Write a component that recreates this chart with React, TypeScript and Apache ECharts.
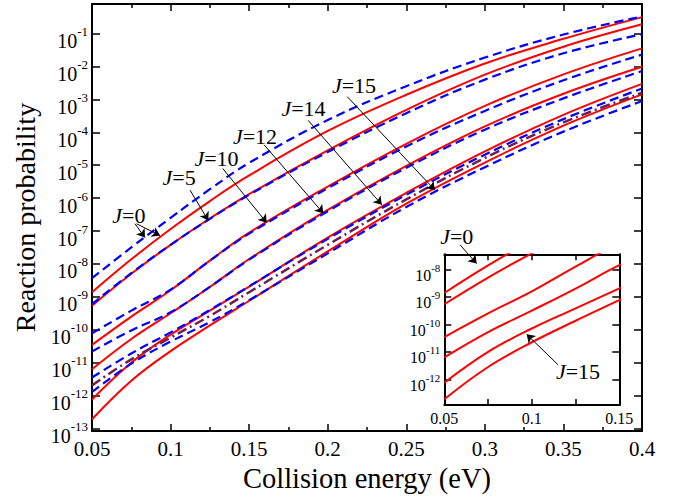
import React, { useEffect, useRef } from "react";
import * as echarts from "echarts";

// Collision energy (eV)
const energy = [0.05, 0.075, 0.1, 0.125, 0.15, 0.2, 0.25, 0.3, 0.35, 0.4];
// log10(reaction probability)
const redJ0 = [-8.86, -7.86, -6.94, -6.09, -5.31, -3.96, -2.86, -1.91, -1.16, -0.5];
const blueJ0 = [-8.43, -7.5, -6.6, -5.73, -4.93, -3.63, -2.6, -1.73, -1.03, -0.48];
const redJ5 = [-9.27, -8.3, -7.42, -6.62, -5.88, -4.55, -3.32, -2.25, -1.4, -0.72];
const blueJ5 = [-9.22, -8.28, -7.42, -6.63, -5.9, -4.6, -3.42, -2.4, -1.6, -1.02];
const redJ10 = [-10.46, -9.6, -8.8, -7.9, -7.05, -5.65, -4.35, -3.2, -2.24, -1.45];
const blueJ10 = [-10.11, -9.42, -8.78, -7.9, -7.08, -5.7, -4.43, -3.35, -2.42, -1.64];
const redJ12 = [-11.2, -10.28, -9.5, -8.7, -7.85, -6.36, -5.02, -3.82, -2.83, -2.01];
const blueJ12 = [-10.66, -10.02, -9.47, -8.7, -7.87, -6.4, -5.08, -3.92, -2.97, -2.14];
const redJ14 = [-12.12, -11.0, -10.15, -9.42, -8.69, -7.2, -5.84, -4.58, -3.47, -2.53];
const blueJ14 = [-11.45, -10.72, -10.08, -9.4, -8.68, -7.24, -5.9, -4.68, -3.6, -2.67];
const purpleLine = [-11.69, -10.9, -10.24, -9.58, -8.86, -7.42, -6.04, -4.78, -3.7, -2.8];
const redJ15 = [-12.72, -11.55, -10.65, -9.87, -9.12, -7.62, -6.17, -4.92, -3.8, -2.85];
const blueJ15 = [-11.89, -11.03, -10.36, -9.77, -9.1, -7.68, -6.27, -5.06, -3.98, -3.05];

const redCurves = [redJ0, redJ5, redJ10, redJ12, redJ14, redJ15];
const blueCurves = [blueJ0, blueJ5, blueJ10, blueJ12, blueJ14, blueJ15];

// Annotation labels (J value, [energy, log10 P]) in main-plot data coordinates
const labelJ = ["0", "5", "10", "12", "14", "15", "0", "15"];
const labelPos = [
  [0.0735, -6.54],
  [0.1054, -5.38],
  [0.1292, -4.79],
  [0.1537, -4.13],
  [0.1846, -3.27],
  [0.2167, -2.59],
  [0.2821, -7.16],
  [0.3593, -11.28],
];
const arrowFrom = [
  [0.0774, -6.78],
  [0.0784, -6.78],
  [0.1124, -5.76],
  [0.1332, -5.1],
  [0.1595, -4.38],
  [0.1876, -3.64],
  [0.2125, -2.92],
  [0.2842, -7.42],
  [0.3467, -11.07],
];
const arrowTo = [
  [0.0837, -7.2],
  [0.0933, -7.14],
  [0.124, -6.68],
  [0.1612, -6.75],
  [0.1972, -6.46],
  [0.2344, -6.2],
  [0.2683, -5.76],
  [0.2948, -7.99],
  [0.3266, -10.14],
];

const FONT = "'Liberation Serif', 'Times New Roman', serif";

const toData = (arr: number[]) => energy.map((e, i) => [e, arr[i]]);

const powLabel = (v: number) =>
  Math.abs(v - Math.round(v)) < 1e-6 ? `{b|10}{s|${Math.round(v)}}` : "";

export default function App() {
  const ref = useRef<HTMLDivElement>(null);
  useEffect(() => {
    if (!ref.current) return;
    const chart = echarts.init(ref.current, undefined, { renderer: "svg" });

    const axisLine = { show: true, onZero: false, lineStyle: { color: "#000", width: 2 } };
    const mainX = (pos: "bottom" | "top") => ({
      type: "value",
      gridIndex: 0,
      position: pos,
      min: 0.05,
      max: 0.4,
      interval: 0.05,
      axisLine,
      axisTick: { show: true, inside: true, length: 7, lineStyle: { color: "#000", width: 1.5 } },
      minorTick: { show: true, splitNumber: 2, length: 4, lineStyle: { color: "#000", width: 1.5 } },
      splitLine: { show: false },
      axisLabel: {
        show: pos === "bottom",
        color: "#000",
        fontFamily: FONT,
        fontSize: 21,
        margin: 7,
      },
      ...(pos === "bottom"
        ? {
            name: "Collision energy (eV)",
            nameLocation: "middle",
            nameGap: 25,
            nameTextStyle: { color: "#000", fontFamily: FONT, fontSize: 28.5 },
          }
        : {}),
    });
    const mainY = (pos: "left" | "right") => ({
      type: "value",
      gridIndex: 0,
      position: pos,
      min: -13.08,
      max: -0.102,
      splitNumber: 13,
      minInterval: 1,
      maxInterval: 1,
      axisLine,
      axisTick: { show: true, inside: true, length: 8, lineStyle: { color: "#000", width: 1.5 } },
      splitLine: { show: false },
      axisLabel: {
        show: pos === "left",
        showMinLabel: false,
        showMaxLabel: false,
        formatter: powLabel,
        margin: 4,
        padding: [9, 0, 0, 0],
        rich: {
          b: { fontFamily: FONT, fontSize: 20, color: "#000", lineHeight: 26, verticalAlign: "bottom" },
          s: { fontFamily: FONT, fontSize: 13, color: "#000", lineHeight: 26, verticalAlign: "top" },
        },
      },
      ...(pos === "left"
        ? {
            name: "Reaction probability",
            nameLocation: "middle",
            nameGap: 50,
            nameTextStyle: { color: "#000", fontFamily: FONT, fontSize: 28 },
          }
        : {}),
    });
    const insetX = (pos: "bottom" | "top") => ({
      type: "value",
      gridIndex: 1,
      position: pos,
      min: 0.05,
      max: 0.15,
      interval: 0.05,
      axisLine,
      axisTick: { show: true, inside: true, length: 6, lineStyle: { color: "#000", width: 1.5 } },
      minorTick: { show: true, splitNumber: 2, length: 6, lineStyle: { color: "#000", width: 1.5 } },
      splitLine: { show: false },
      axisLabel: { show: pos === "bottom", color: "#000", fontFamily: FONT, fontSize: 16, margin: 5 },
    });
    const insetY = (pos: "left" | "right") => ({
      type: "value",
      gridIndex: 1,
      position: pos,
      min: -12.93,
      max: -7.455,
      splitNumber: 5,
      minInterval: 1,
      maxInterval: 1,
      axisLine,
      axisTick: { show: true, inside: true, length: 7, lineStyle: { color: "#000", width: 1.5 } },
      splitLine: { show: false },
      axisLabel: {
        show: pos === "left",
        showMinLabel: false,
        showMaxLabel: false,
        formatter: powLabel,
        margin: 4,
        padding: [7, 0, 0, 0],
        rich: {
          b: { fontFamily: FONT, fontSize: 16, color: "#000", lineHeight: 21, verticalAlign: "bottom" },
          s: { fontFamily: FONT, fontSize: 11, color: "#000", lineHeight: 21, verticalAlign: "top" },
        },
      },
    });

    const series: any[] = [];
    redCurves.forEach((c, i) =>
      series.push({
        type: "line",
        name: `red${i}`,
        xAxisIndex: 0,
        yAxisIndex: 0,
        data: toData(c),
        smooth: 0.4,
        showSymbol: false,
        lineStyle: { color: "#ff0000", width: 2, type: "solid" },
      })
    );
    blueCurves.forEach((c, i) =>
      series.push({
        type: "line",
        name: `blue${i}`,
        xAxisIndex: 0,
        yAxisIndex: 0,
        data: toData(c),
        smooth: 0.4,
        showSymbol: false,
        lineStyle: { color: "#0000ff", width: 2.2, type: [9, 5] },
      })
    );
    series.push({
      type: "line",
      name: "purple",
      xAxisIndex: 0,
      yAxisIndex: 0,
      data: toData(purpleLine),
      smooth: 0.4,
      showSymbol: false,
      lineStyle: { color: "#6e1e50", width: 2.5, type: [10, 4, 2, 4] },
    });
    redCurves.forEach((c, i) =>
      series.push({
        type: "line",
        name: `inset${i}`,
        xAxisIndex: 2,
        yAxisIndex: 2,
        data: toData(c),
        smooth: 0.4,
        showSymbol: false,
        clip: true,
        z: 4,
        lineStyle: { color: "#ff0000", width: 2, type: "solid" },
      })
    );
    series.push({
      type: "line",
      name: "annotations",
      xAxisIndex: 0,
      yAxisIndex: 0,
      data: [],
      silent: true,
      z: 5,
      markLine: {
        silent: true,
        symbol: ["none", "arrow"],
        symbolSize: 8,
        label: { show: false },
        lineStyle: { color: "#000", width: 1, type: "solid" },
        emphasis: { disabled: true },
        data: arrowFrom.map((f, i) => [{ coord: f }, { coord: arrowTo[i] }]),
      },
      markPoint: {
        silent: true,
        symbol: "circle",
        symbolSize: 0,
        label: {
          show: true,
          position: "inside",
          formatter: (p: any) => `{i|J}{n|=${p.name}}`,
          rich: {
            i: { fontFamily: FONT, fontStyle: "italic", fontSize: 22, color: "#000" },
            n: { fontFamily: FONT, fontSize: 22, color: "#000" },
          },
        },
        data: labelPos.map((p, i) => ({ name: labelJ[i], coord: p })),
      },
    });

    chart.setOption({
      animation: false,
      backgroundColor: "#fff",
      grid: [
        { left: 92, right: 38, top: 4, bottom: 56.3, containLabel: false },
        {
          left: 444.3,
          top: 254.3,
          width: 175,
          height: 150.7,
          show: true,
          backgroundColor: "#fff",
          borderWidth: 0,
        },
      ],
      xAxis: [mainX("bottom"), mainX("top"), insetX("bottom"), insetX("top")],
      yAxis: [mainY("left"), mainY("right"), insetY("left"), insetY("right")],
      series,
    });
    return () => chart.dispose();
  }, []);
  return (
    <div
      ref={ref}
      style={{ position: "fixed", left: 0, top: 0, width: 680, height: 498 }}
    />
  );
}
